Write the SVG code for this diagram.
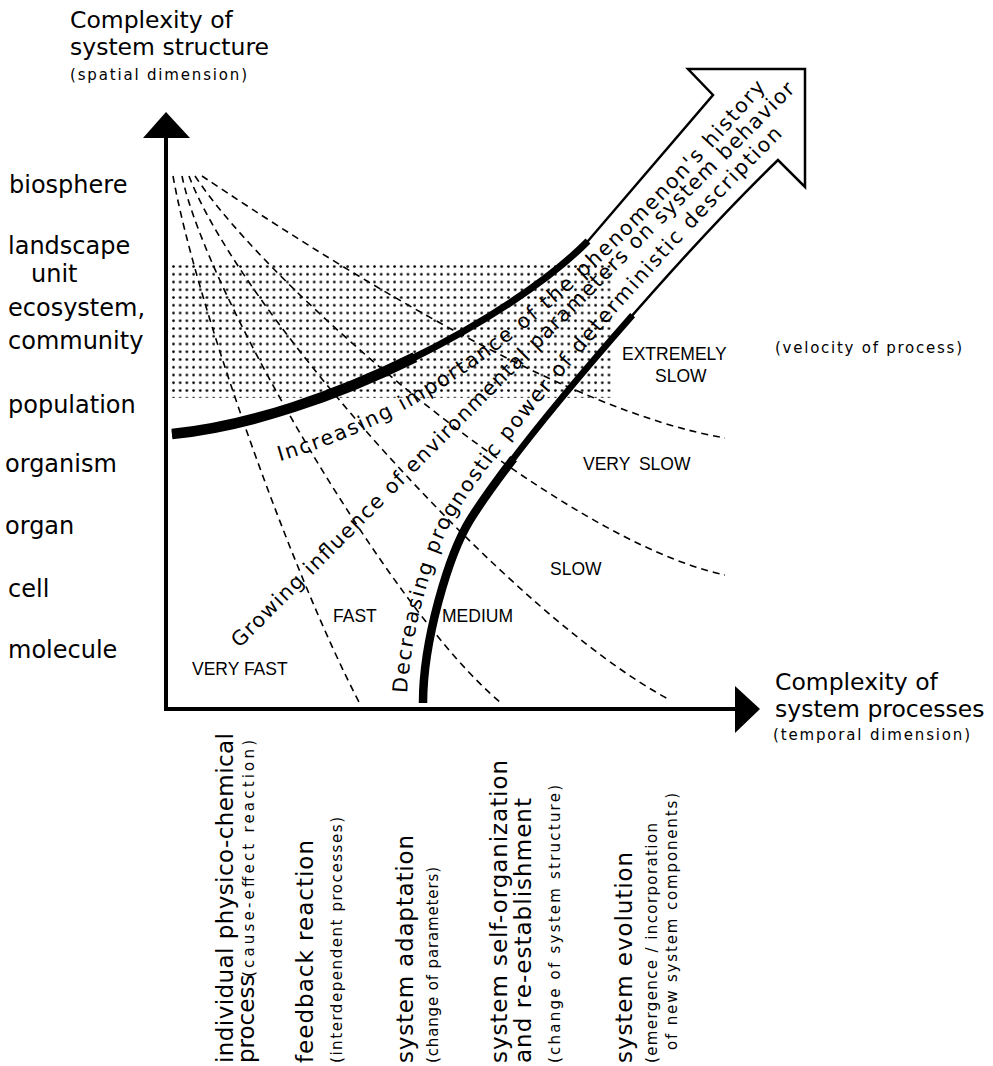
<svg xmlns="http://www.w3.org/2000/svg" width="993" height="1066" viewBox="0 0 993 1066">
<defs>
<pattern id="stip" x="172" y="265" width="6.7" height="7.75" patternUnits="userSpaceOnUse"><circle cx="1.5" cy="1.5" r="1.35" fill="#000"/></pattern>
<style>
.lab{font-family:"DejaVu Sans",sans-serif;font-size:24px;fill:#000}
.blab{font-family:"DejaVu Sans",sans-serif;font-size:23px;fill:#000}
.ttl{font-family:"DejaVu Sans",sans-serif;font-size:23.5px;fill:#000}
.sm{font-family:"DejaVu Sans",sans-serif;font-size:15px;fill:#000}
.band{font-family:"DejaVu Sans",sans-serif;font-size:20.5px;fill:#000}
.cap{font-family:"Liberation Sans",sans-serif;font-size:17.5px;fill:#000}
.dash{fill:none;stroke:#000;stroke-width:1.6;stroke-dasharray:7 5}
.thin{fill:none;stroke:#000;stroke-width:2.5;stroke-linejoin:miter}
.axis{stroke:#000;stroke-width:4}
</style>
<path id="p1" d="M274,463 C430,418 560,325 778,74"/>
<path id="p2" d="M238,650 L800,86"/>
<path id="p3" d="M407,703 C407,640 435,545 457,512 C512,424 690,226 786,132"/>
</defs>
<rect width="993" height="1066" fill="#fff"/>
<g id="stipple"><rect x="170" y="264" width="443" height="134" fill="url(#stip)"/></g>
<g id="connectors">
<path class="dash" d="M173,176 C195,300 290,570 360,704"/>
<path class="dash" d="M182,176 C205,290 390,610 500,702"/>
<path class="dash" d="M189,176 C240,310 510,615 670,700"/>
<path class="dash" d="M195,176 C270,290 560,540 725,575"/>
<path class="dash" d="M202,176 C320,255 560,410 725,438"/>
</g>
<g id="axes">
<line class="axis" x1="166" y1="136" x2="166" y2="711"/>
<line class="axis" x1="164" y1="709" x2="737" y2="709"/>
<polygon points="166,112 143,138 190,138" fill="#000"/>
<polygon points="760,709 735,686 735,733" fill="#000"/>
</g>
<g id="big-arrow">
<path class="thin" d="M172,434 C322,419 512,318 588,241 L713,95 L688,69 L805,69 L805,187 L778,160 C695,240 525,432 470,520 C449,554 423,640 423,703"/>
<path fill="none" stroke="#000" stroke-width="7" d="M172,434 C322,419 512,318 588,241"/>
<path fill="none" stroke="#000" stroke-width="10.5" pathLength="100" stroke-dasharray="55 200" d="M172,434 C322,419 512,318 588,241"/>
<path fill="none" stroke="#000" stroke-width="6.5" pathLength="100" stroke-dasharray="68 200" d="M423,703 C423,640 449,554 470,520 C525,432 695,240 778,160"/>
<path fill="none" stroke="#000" stroke-width="8.5" pathLength="100" stroke-dasharray="40 200" d="M423,703 C423,640 449,554 470,520 C525,432 695,240 778,160"/>
</g>
<g id="band-text">
<text class="band"><textPath href="#p1" startOffset="6" textLength="622">Increasing importance of the phenomenon's history</textPath></text>
<text class="band"><textPath href="#p2" startOffset="2" textLength="788">Growing influence of environmental parameters on system behavior</textPath></text>
<text class="band"><textPath href="#p3" startOffset="10" textLength="688">Decreasing prognostic power of deterministic description</textPath></text>
</g>
<g id="y-labels">
<text class="lab" x="9" y="193">biosphere</text>
<text class="lab" x="8" y="254">landscape</text>
<text class="lab" x="31" y="282">unit</text>
<text class="lab" x="8" y="316">ecosystem,</text>
<text class="lab" x="8" y="349">community</text>
<text class="lab" x="8" y="413">population</text>
<text class="lab" x="5" y="472">organism</text>
<text class="lab" x="5" y="534">organ</text>
<text class="lab" x="8" y="597">cell</text>
<text class="lab" x="8" y="658">molecule</text>
</g>
<g id="x-labels">
<text class="blab" transform="translate(233,1063) rotate(-90)" textLength="330">individual physico-chemical</text>
<text class="blab" transform="translate(254,1063) rotate(-90)">process</text>
<text class="sm" transform="translate(254,977) rotate(-90)" textLength="237">(cause-effect reaction)</text>
<text class="blab" transform="translate(313,1063) rotate(-90)" textLength="223">feedback reaction</text>
<text class="sm" transform="translate(342,1063) rotate(-90)" textLength="246">(interdependent processes)</text>
<text class="blab" transform="translate(413,1063) rotate(-90)" textLength="228">system adaptation</text>
<text class="sm" transform="translate(438,1063) rotate(-90)" textLength="196">(change of parameters)</text>
<text class="blab" transform="translate(507,1063) rotate(-90)" textLength="303">system self-organization</text>
<text class="blab" transform="translate(531,1063) rotate(-90)" textLength="265">and re-establishment</text>
<text class="sm" transform="translate(560,1063) rotate(-90)" textLength="278">(change of system structure)</text>
<text class="blab" transform="translate(632,1063) rotate(-90)" textLength="211">system evolution</text>
<text class="sm" transform="translate(657,1063) rotate(-90)" textLength="240">(emergence / incorporation</text>
<text class="sm" transform="translate(677,1050) rotate(-90)" textLength="257">of new system components)</text>
</g>
<g id="regions">
<text class="cap" x="192" y="675">VERY FAST</text>
<text class="cap" x="333" y="622">FAST</text>
<text class="cap" x="442" y="622">MEDIUM</text>
<text class="cap" x="550" y="575">SLOW</text>
<text class="cap" x="583" y="470" word-spacing="4">VERY SLOW</text>
<text class="cap" x="622" y="360">EXTREMELY</text>
<text class="cap" x="655" y="382">SLOW</text>
<text class="sm" x="775" y="353" font-size="16" textLength="187">(velocity of process)</text>
</g>
<g id="titles">
<text class="ttl" x="70" y="28">Complexity of</text>
<text class="ttl" x="70" y="55">system structure</text>
<text class="sm" x="70" y="80" textLength="177">(spatial dimension)</text>
<text class="ttl" x="775" y="690">Complexity of</text>
<text class="ttl" x="775" y="717">system processes</text>
<text class="sm" x="773" y="740" textLength="197">(temporal dimension)</text>
</g>
</svg>
